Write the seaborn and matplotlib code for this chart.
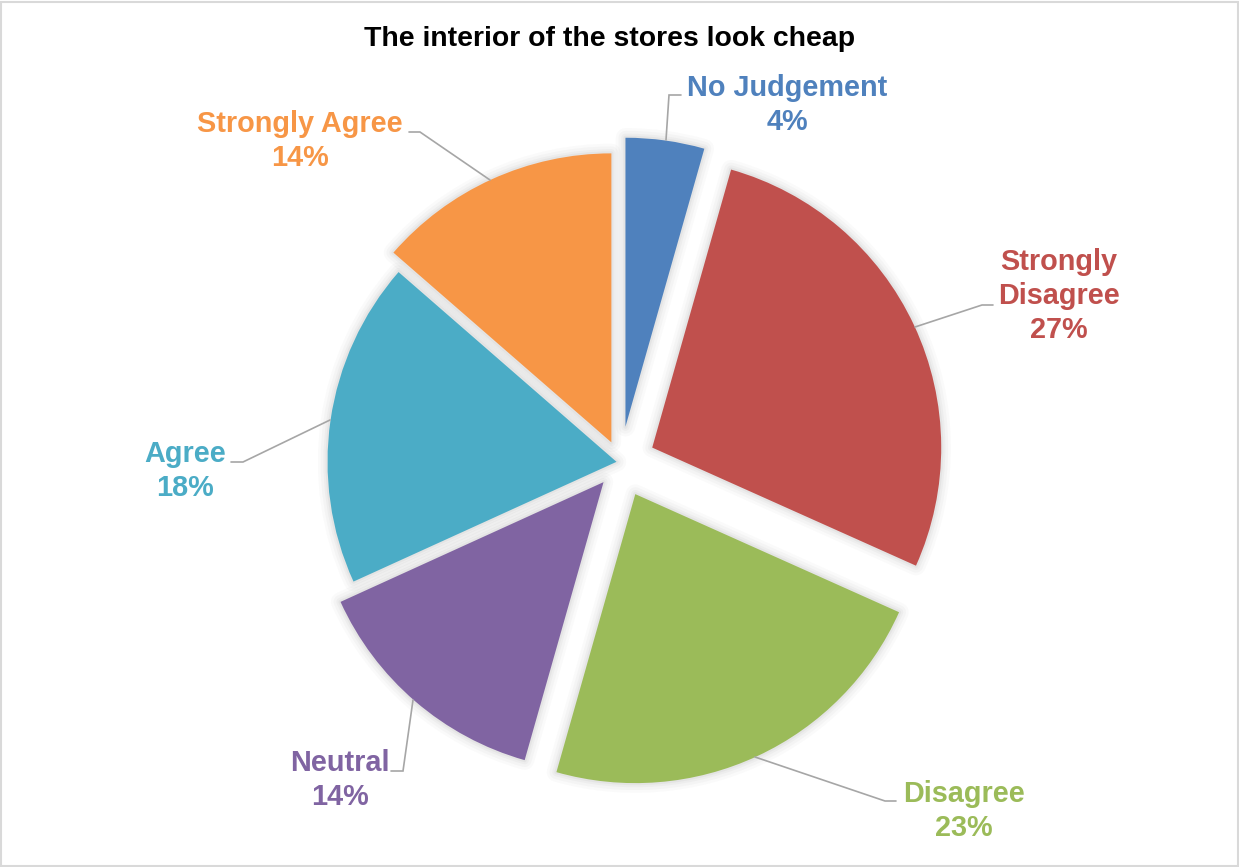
import matplotlib
matplotlib.use("Agg")
import matplotlib.pyplot as plt
from matplotlib.patches import Rectangle
import seaborn as sns

# Survey answers (percent), clockwise from 12 o'clock
categories = ["No Judgement", "Strongly Disagree", "Disagree", "Neutral", "Agree", "Strongly Agree"]
shares = [4.4, 27.3, 22.7, 13.8, 18.2, 13.6]
slice_colors = ["#4F81BD", "#C0504D", "#9BBB59", "#8064A2", "#4BACC6", "#F79646"]
title = "The interior of the stores look cheap"

W, H = 1239, 867
sns.set_theme(style="white")
plt.rcParams["font.family"] = ["Liberation Sans", "DejaVu Sans"]
palette = sns.color_palette(slice_colors)

fig = plt.figure(figsize=(W / 100, H / 100), dpi=100)
fig.patch.set_facecolor("white")
ax = fig.add_axes([0, 0, 1, 1])


def py(y):
    """Top-down pixel row -> data y."""
    return H - y


center = (620.5, py(462.4))
radius = 289
explode = [36, 35, 35, 26, 4, 22]
pie_kw = dict(explode=explode, center=center, radius=radius,
              startangle=90, counterclock=False)

# soft drop shadow under the slices
for lw, a in [(14, 0.025), (10, 0.03), (6, 0.04), (3, 0.05)]:
    ax.pie(shares, colors=["none"] * len(shares),
           wedgeprops=dict(edgecolor=(0.3, 0.3, 0.3, a), linewidth=lw,
                           joinstyle="round"), **pie_kw)

ax.pie(shares, colors=palette, wedgeprops=dict(linewidth=0), **pie_kw)

ax.set_xlim(0, W)
ax.set_ylim(0, H)
ax.set_aspect("auto")
ax.axis("off")

# label anchors (text centre x, first-line baseline) and leader-line paths
label_pos = {
    "No Judgement": (787, 96),
    "Strongly Disagree": (1059, 270),
    "Disagree": (964, 802),
    "Neutral": (340, 771),
    "Agree": (185, 462),
    "Strongly Agree": (300, 132),
}
leaders = {
    "No Judgement": [(666, 140), (669, 95), (681, 95)],
    "Strongly Disagree": [(915, 327), (982, 305), (993, 305)],
    "Disagree": [(755, 757), (885, 801), (896, 801)],
    "Neutral": [(413, 700), (403, 771), (391, 771)],
    "Agree": [(330, 420), (243, 462), (231, 462)],
    "Strongly Agree": [(490, 180), (420, 132), (409, 132)],
}
line_step = 34

for name, val, col in zip(categories, shares, palette):
    pts = leaders[name]
    ax.plot([p[0] for p in pts], [py(p[1]) for p in pts],
            color="#A6A6A6", lw=1.2, solid_joinstyle="miter")
    lines = name.split(" ") if name == "Strongly Disagree" else [name]
    lines = lines + [f"{round(val):d}%"]
    x0, y0 = label_pos[name]
    for i, t in enumerate(lines):
        ax.text(x0, py(y0 + i * line_step), t, ha="center", va="baseline",
                color=col, fontsize=20.8, fontweight="bold")

ax.text(610, py(45.5), title, ha="center", va="baseline",
        color="black", fontsize=20.4, fontweight="bold")

# thin grey chart-area border
fig.patches.append(Rectangle((1 / W, 1 / H), (W - 2.5) / W, (H - 2.5) / H,
                             transform=fig.transFigure, fill=False,
                             edgecolor="#D9D9D9", linewidth=1.5))

fig.savefig("out.png", dpi=100, facecolor="white")
